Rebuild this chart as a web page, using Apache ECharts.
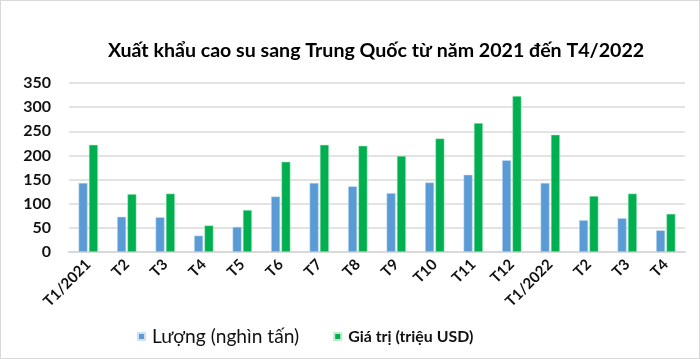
<!DOCTYPE html>
<html><head><meta charset="utf-8">
<script src="https://cdn.jsdelivr.net/npm/echarts@6/dist/echarts.min.js"></script>
<style>html,body{margin:0;padding:0;background:#fff}#c{width:698px;height:357px;border:1px solid #d9d9d9}</style>
</head><body><div id="c"></div>
<script>
const categories = ['T1/2021','T2','T3','T4','T5','T6','T7','T8','T9','T10','T11','T12','T1/2022','T2','T3','T4'];
const volume = [143,73,72,34,52,115,143,136,122,144,160,190,143,66,70,45];
const value = [222,120,121,55,87,187,222,220,199,235,267,323,243,116,121,79];
const yTicks = [0,50,100,150,200,250,300,350];
const seriesNames = ['Lượng (nghìn tấn)','Giá trị (triệu USD)'];
const titleText = 'Xuất khẩu cao su sang Trung Quốc từ năm 2021 đến T4/2022';
const font = 'Lato, "Open Sans", sans-serif';

function fitSize(text, weight, family, target){
  const ctx = document.createElement('canvas').getContext('2d');
  ctx.font = weight + ' 100px ' + family;
  return Math.round(100 * target / ctx.measureText(text).width * 10) / 10;
}
const titleSize = fitSize(titleText, 'bold', font, 535);
const leg1Size = fitSize(seriesNames[0], 'normal', font, 147);
const leg2Size = fitSize(seriesNames[1], 'bold', font, 125);

const chart = echarts.init(document.getElementById('c'));
chart.setOption({
  animation:false,
  title:{text:titleText,left:102,top:45,textVerticalAlign:'middle',
    textStyle:{fontFamily:font,fontWeight:'bold',fontSize:titleSize,color:'#000',lineHeight:titleSize*1.2}},
  grid:{left:68,right:14,top:82,bottom:106},
  legend:{top:321,left:131,itemWidth:7,itemHeight:7,itemGap:34,icon:'rect',
    data:[
      {name:seriesNames[0],textStyle:{fontFamily:font,fontSize:leg1Size,fontWeight:'normal',color:'#111',padding:[0,0,0,2]}},
      {name:seriesNames[1],textStyle:{fontFamily:font,fontSize:leg2Size,fontWeight:'bold',color:'#111',padding:[0,0,0,2]}}
    ]},
  xAxis:{type:'category',data:categories,axisTick:{show:false},
    axisLine:{lineStyle:{color:'#d9d9d9',width:2}},
    axisLabel:{rotate:45,interval:0,fontFamily:font,fontWeight:'bold',fontSize:15,color:'#111',margin:10}},
  yAxis:{type:'value',min:0,max:350,interval:50,
    axisLine:{show:false},axisTick:{show:false},
    splitLine:{lineStyle:{color:'#e3e3e3',width:2}},
    axisLabel:{fontFamily:font,fontWeight:'bold',fontSize:16,color:'#111',margin:18,
      formatter:v=>yTicks.includes(v)?String(v):''}},
  series:[
    {name:seriesNames[0],type:'bar',data:volume,barWidth:9,barGap:'15%',
      itemStyle:{color:'#5B9BD5',borderColor:'#cfe0f2',borderWidth:0.5}},
    {name:seriesNames[1],type:'bar',data:value,barWidth:9,
      itemStyle:{color:'#00B050',borderColor:'#bfeccf',borderWidth:0.5}}
  ]
});
</script></body></html>
